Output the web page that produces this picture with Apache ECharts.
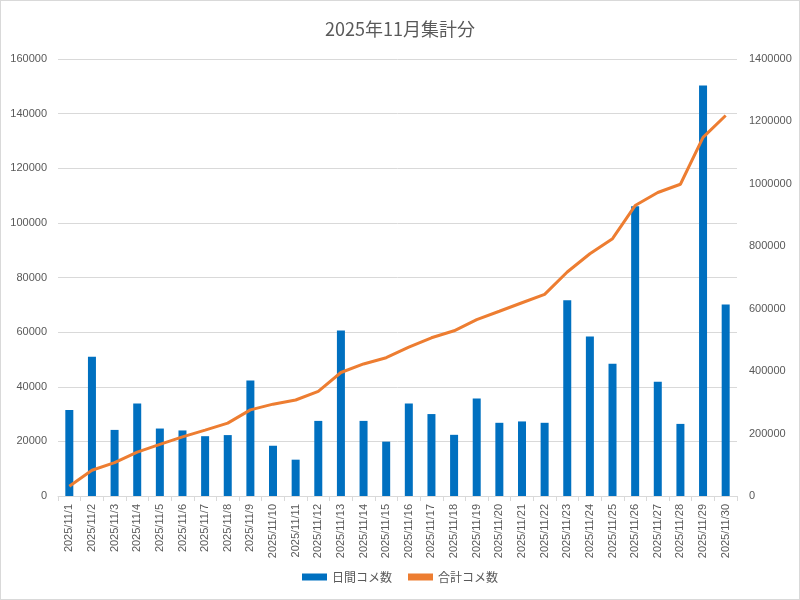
<!DOCTYPE html>
<html><head><meta charset="utf-8">
<script src="https://cdn.jsdelivr.net/npm/echarts@6/dist/echarts.min.js"></script>
<style>
html,body{margin:0;padding:0;background:#fff;}
#c{position:absolute;left:0;top:0;width:798px;height:598px;border:1px solid #d9d9d9;}
</style></head>
<body><div id="c"></div>
<script>
const categories = ["2025/11/1","2025/11/2","2025/11/3","2025/11/4","2025/11/5","2025/11/6","2025/11/7","2025/11/8","2025/11/9","2025/11/10","2025/11/11","2025/11/12","2025/11/13","2025/11/14","2025/11/15","2025/11/16","2025/11/17","2025/11/18","2025/11/19","2025/11/20","2025/11/21","2025/11/22","2025/11/23","2025/11/24","2025/11/25","2025/11/26","2025/11/27","2025/11/28","2025/11/29","2025/11/30"];
const dailyComments = [31500,51000,24200,33900,24700,24000,21900,22300,42300,18400,13300,27500,60600,27500,19900,33900,30000,22400,35700,26800,27300,26800,71700,58400,48400,106100,41800,26400,150300,70100];
const totalComments = [31500,82500,106700,140600,165300,189300,211200,233500,275800,294200,307500,335000,395600,423100,443000,476900,506900,529300,565000,591800,619100,645900,717600,776000,824400,930500,972300,998700,1149000,1219100];
const seriesNames = ["日間コメ数","合計コメ数"];
const titleText = "2025年11月集計分";

const font = "'Liberation Sans','Noto Sans CJK JP',sans-serif";
const chart = echarts.init(document.getElementById('c'));
chart.setOption({
  animation:false,
  title:{text:titleText,left:'center',top:14,textStyle:{fontFamily:"'Noto Sans CJK JP',sans-serif",fontSize:18,fontWeight:'normal',color:'#595959'}},
  legend:{bottom:11,left:'center',itemWidth:25,itemHeight:7,itemGap:16,
    textStyle:{fontFamily:"'Noto Sans CJK JP',sans-serif",fontSize:12,color:'#595959'},
    data:[{name:seriesNames[0],icon:'rect'},{name:seriesNames[1],icon:'rect',itemStyle:{color:'#ED7D31'}}]},
  grid:{left:57,right:62,top:58,bottom:103,containLabel:false,outerBoundsMode:'none'},
  xAxis:{type:'category',data:categories,boundaryGap:true,
    axisLine:{lineStyle:{color:'#d9d9d9'}},
    axisTick:{show:true,length:5,lineStyle:{color:'#d9d9d9'}},
    axisLabel:{rotate:90,interval:0,fontFamily:font,fontSize:11,color:'#595959',margin:8}},
  yAxis:[
    {type:'value',min:0,max:160000,interval:20000,
     axisLine:{show:false},axisTick:{show:false},
     splitLine:{lineStyle:{color:'#d9d9d9',width:1}},
     axisLabel:{fontFamily:font,fontSize:11,color:'#595959',margin:11,formatter:v=>String(v)}},
    {type:'value',min:0,max:1400000,interval:200000,
     axisLine:{show:false},axisTick:{show:false},splitLine:{show:false},
     axisLabel:{fontFamily:font,fontSize:11,color:'#595959',margin:12,formatter:v=>String(v)}}
  ],
  series:[
    {name:seriesNames[0],type:'bar',data:dailyComments,yAxisIndex:0,barWidth:8,
     itemStyle:{color:'#0070C0'}},
    {name:seriesNames[1],type:'line',data:totalComments,yAxisIndex:1,showSymbol:false,symbol:'none',
     lineStyle:{color:'#ED7D31',width:3},itemStyle:{color:'#ED7D31'}}
  ]
});
</script></body></html>
